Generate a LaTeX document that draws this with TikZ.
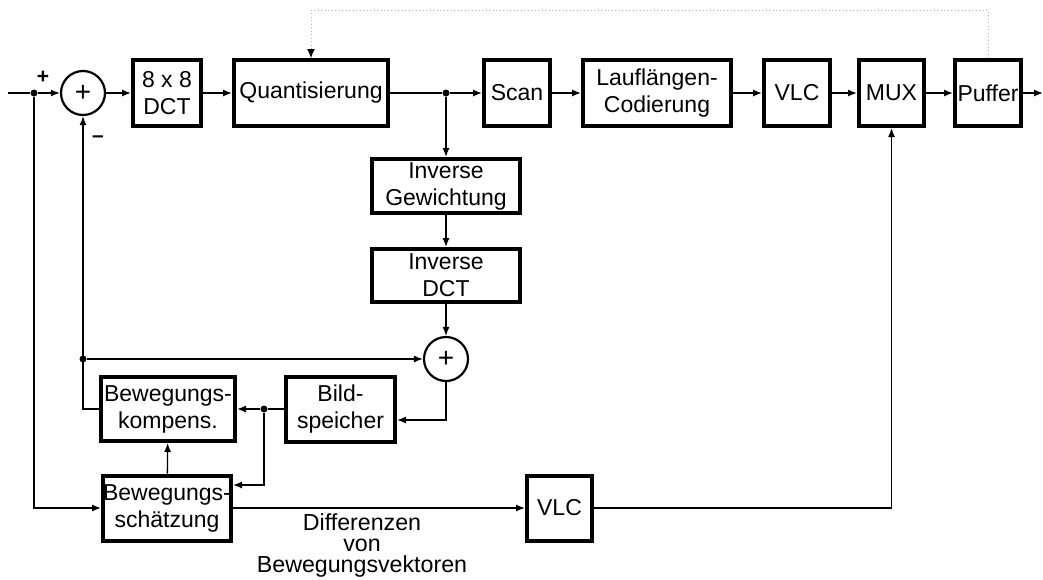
\documentclass[tikz,border=0pt]{standalone}
\usepackage{fontspec}
\setmainfont{Liberation Sans}
\usetikzlibrary{arrows.meta,calc}
\begin{document}
\begin{tikzpicture}[x=1pt,y=-1pt,
  blk/.style={draw,line width=4pt,inner sep=0pt,align=center,
    font=\fontsize{23}{27}\selectfont},
  sumnode/.style={draw,circle,line width=2.2pt,minimum size=44pt,inner sep=0pt,
    font=\fontsize{28}{28}\selectfont},
  wire/.style={line width=1.3pt},
  conn/.style={wire,-{Latex[length=9pt,width=7pt]}},
  dot/.style={circle,fill,inner sep=0pt,minimum size=7pt},
  fbline/.style={line width=1pt,gray!60,dash pattern=on 1pt off 2.5pt,
    -{Latex[length=9pt,width=8pt,black]}},
  sign/.style={inner sep=0pt,font=\fontsize{21}{21}\selectfont\bfseries},
  lbl/.style={inner sep=0pt,align=center,font=\fontsize{23.2}{21}\selectfont}]

\useasboundingbox[fill=white] (0,0) rectangle (1043,579);

% forward path
\coordinate (in) at (8,93);
\node[dot] (j1) at (34,93) {};
\node[sumnode] (sum1) at (83,93) {+};
\node[blk,minimum width=68,minimum height=66] (dct) at (167,93) {8 x 8\\DCT};
\node[blk,minimum width=154,minimum height=66] (quant) at (311,93) {Quantisierung};
\node[dot] (j2) at (446,93) {};
\node[blk,minimum width=66,minimum height=66] (scan) at (517,93) {Scan};
\node[blk,minimum width=148,minimum height=66] (rlc) at (657,93) {Lauflängen-\\Codierung};
\node[blk,minimum width=66,minimum height=66] (vlc) at (797,93) {VLC};
\node[blk,minimum width=65,minimum height=66] (mux) at (891.5,93) {MUX};
\node[blk,minimum width=66,minimum height=66] (puf) at (988,93) {Puffer};
\coordinate (out) at (1043,93);

\node[sign] (plus) at (43,77) {+};
\node[sign] (minus) at (98,139) {–};

% reconstruction loop
\node[blk,minimum width=148,minimum height=54] (ig) at (446,186) {Inverse\\Gewichtung};
\node[blk,minimum width=148,minimum height=53] (idct) at (446,275.5) {Inverse\\DCT};
\node[sumnode] (sum2) at (446,359) {+};
\node[blk,minimum width=134,minimum height=64] (bk) at (168,409) {Bewegungs-\\kompens.};
\node[blk,minimum width=109,minimum height=65] (bsp) at (340.5,409) {Bild-\\speicher};
\node[dot] (j3) at (264,409) {};
\node[dot] (j4) at (83,359) {};
\node[blk,minimum width=128,minimum height=65] (bs) at (167,508) {Bewegungs-\\schätzung};
\node[blk,minimum width=65,minimum height=65] (vlc2) at (559.5,508) {VLC};
\node[lbl] (diff) at (362,545) {Differenzen\\von\\Bewegungsvektoren};

% rate control feedback
\coordinate (fb) at (988,10);

% connectors of the forward path
\draw[wire] (in) -- (j1);
\draw[conn] (j1) -- (sum1);
\draw[conn] (sum1) -- (dct);
\draw[conn] (dct) -- (quant);
\draw[wire] (quant) -- (j2);
\draw[conn] (j2) -- (scan);
\draw[conn] (scan) -- (rlc);
\draw[conn] (rlc) -- (vlc);
\draw[conn] (vlc) -- (mux);
\draw[conn] (mux) -- (puf);
\draw[conn] (puf) -- (out);
\draw[fbline] (puf.north) -- (fb) -| (quant.north);

% connectors of the loop
\draw[conn] (j2) -- (ig);
\draw[conn] (ig) -- (idct);
\draw[conn] (idct) -- (sum2);
\draw[conn] (j4) -- (sum2);
\draw[conn] (bk.west) -| (sum1.south);
\draw[conn] (sum2.south) |- ([yshift=-11pt]bsp.east);
\draw[wire] (bsp.west) -- (j3);
\draw[conn] (j3) -- (bk.east);
\draw[conn] (j3) |- ([yshift=23pt]bs.east);
\draw[conn] (bs) -- (bk);
\draw[conn] (j1) |- (bs.west);
\draw[conn] (bs.east) -- (vlc2.west);
\draw[conn] (vlc2.east) -| (mux.south);
\end{tikzpicture}
\end{document}
